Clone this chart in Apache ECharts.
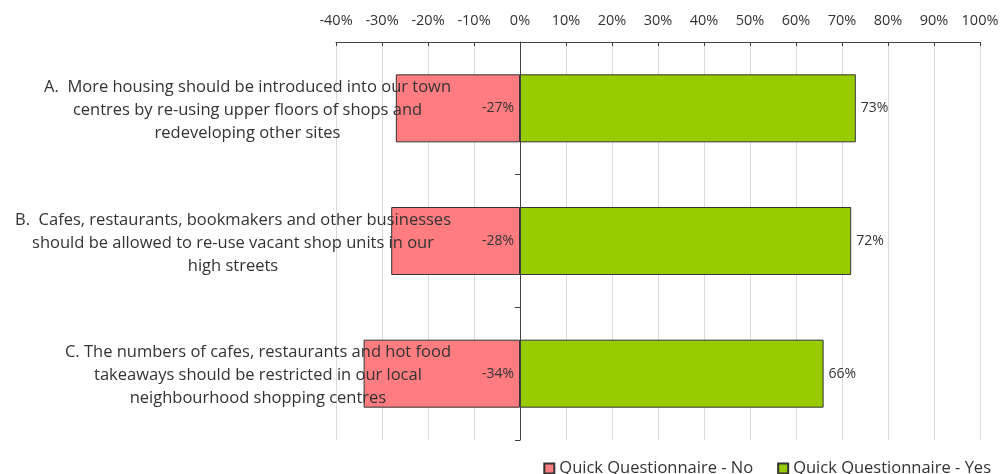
<!DOCTYPE html>
<html>
<head>
<meta charset="utf-8">
<script src="https://cdn.jsdelivr.net/npm/echarts@6/dist/echarts.min.js"></script>
<style>
  html, body { margin: 0; padding: 0; background: #ffffff; }
  #chart { width: 1000px; height: 474px; }
</style>
</head>
<body>
<div id="chart"></div>
<script>
// Survey statements (each split into its display lines)
const statements = [
  ['A.  More housing should be introduced into our town', 'centres by re-using upper floors of shops and', 'redeveloping other sites'],
  ['B.  Cafes, restaurants, bookmakers and other businesses', 'should be allowed to re-use vacant shop units in our', 'high streets'],
  ['C. The numbers of cafes, restaurants and hot food', 'takeaways should be restricted in our local', 'neighbourhood shopping centres']
];
const categories = ['A', 'B', 'C'];
const noValues = [-27, -28, -34];
const yesValues = [73, 72, 66];
const seriesNames = ['Quick Questionnaire - No', 'Quick Questionnaire - Yes'];

const FONT = 'Open Sans';
const TEXT = '#333333';

const chart = echarts.init(document.getElementById('chart'), null, { renderer: 'canvas' });

chart.setOption({
  animation: false,
  textStyle: { fontFamily: FONT, color: TEXT },
  grid: { left: 336, right: 20, top: 42, bottom: 34, containLabel: false, outerBoundsMode: 'none' },
  legend: {
    data: seriesNames,
    right: 4,
    top: 455,
    itemWidth: 10,
    itemHeight: 10,
    itemGap: 24,
    icon: 'rect',
    textStyle: { fontFamily: FONT, fontSize: 16.5, color: TEXT }
  },
  xAxis: {
    type: 'value',
    position: 'top',
    min: -40,
    max: 100,
    interval: 10,
    axisLine: { show: true, lineStyle: { color: '#404040', width: 1 } },
    axisTick: { show: true, inside: true, length: 4, lineStyle: { color: '#404040' } },
    axisLabel: { formatter: '{value}%', fontFamily: FONT, fontSize: 14.5, color: TEXT, margin: 14 },
    splitLine: { show: true, lineStyle: { color: '#d9d9d9', width: 1 } }
  },
  yAxis: {
    type: 'category',
    data: categories,
    inverse: true,
    z: 5,
    axisLine: { show: true, onZero: true, lineStyle: { color: '#404040', width: 1 } },
    axisTick: { show: true, length: 5, lineStyle: { color: '#404040' } },
    axisLabel: {
      margin: -115,
      align: 'right',
      padding: [4, 0, 0, 0],
      formatter: function (value, idx) {
        return statements[idx].map(function (l) { return '{c|' + l + '}'; }).join('\n');
      },
      rich: {
        c: { align: 'center', fontFamily: FONT, fontSize: 16.5, color: TEXT, lineHeight: 23 }
      }
    },
    splitLine: { show: false }
  },
  series: [
    {
      name: seriesNames[0],
      type: 'bar',
      stack: 'total',
      data: noValues,
      barWidth: 68,
      itemStyle: { color: '#FF7C80', borderColor: '#333333', borderWidth: 1 },
      label: {
        show: true,
        position: 'insideRight',
        distance: 6,
        formatter: function (p) { return p.value + '%'; },
        fontFamily: FONT, fontSize: 14, color: TEXT
      }
    },
    {
      name: seriesNames[1],
      type: 'bar',
      stack: 'total',
      data: yesValues,
      barWidth: 68,
      itemStyle: { color: '#99CC00', borderColor: '#333333', borderWidth: 1 },
      label: {
        show: true,
        position: 'right',
        distance: 5,
        formatter: function (p) { return p.value + '%'; },
        fontFamily: FONT, fontSize: 14, color: TEXT
      }
    }
  ]
});
</script>
</body>
</html>
